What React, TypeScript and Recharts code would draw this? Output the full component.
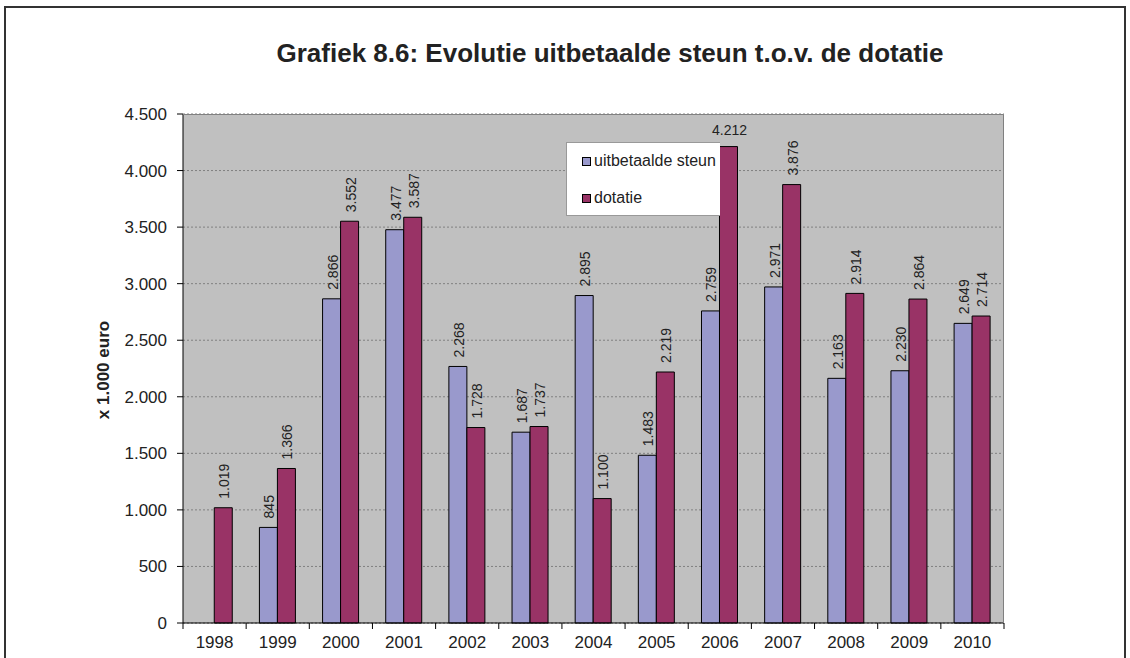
import { BarChart, Bar, XAxis, YAxis, CartesianGrid, Legend, LabelList } from 'recharts';

const years = ['1998', '1999', '2000', '2001', '2002', '2003', '2004', '2005', '2006', '2007', '2008', '2009', '2010'];
const uitbetaaldeSteun = [null, 845, 2866, 3477, 2268, 1687, 2895, 1483, 2759, 2971, 2163, 2230, 2649];
const dotatie = [1019, 1366, 3552, 3587, 1728, 1737, 1100, 2219, 4212, 3876, 2914, 2864, 2714];
const yTicks = [0, 500, 1000, 1500, 2000, 2500, 3000, 3500, 4000, 4500];

const FONT = '"Liberation Sans", Arial, sans-serif';
const BLUE = '#9999CC';
const RED = '#993366';

const data = years.map((year, i) => ({
  year,
  steun: uitbetaaldeSteun[i],
  dotatie: dotatie[i],
}));

// punt als duizendtal-scheiding, zoals in het origineel
const fmt = (v: number) => {
  if (v < 1000) return String(v);
  return `${Math.floor(v / 1000)}.${String(v % 1000).padStart(3, '0')}`;
};

const BarLabel = (props: any) => {
  const { x, y, width, value } = props;
  if (value == null) return null;
  const cx = Number(x) + Number(width) / 2 + 1;
  const top = Number(y);
  // bovenste waarde staat horizontaal, de rest verticaal
  if (value > 4000) {
    return (
      <text x={cx} y={top - 12} textAnchor="middle" fontSize={14} fill="#222" fontFamily={FONT}>
        {fmt(value)}
      </text>
    );
  }
  return (
    <text
      transform={`translate(${cx},${top - 9}) rotate(-90)`}
      textAnchor="start"
      dominantBaseline="central"
      fontSize={14}
      fill="#222"
      fontFamily={FONT}
    >
      {fmt(value)}
    </text>
  );
};

const XTick = (props: any) => {
  const { x, y, payload, index } = props;
  const off = payload && payload.offset ? payload.offset : 821 / 13 / 2;
  return (
    <g>
      <line x1={x - off} x2={x - off} y1={y} y2={y + 6} stroke="#000" />
      {index === years.length - 1 && <line x1={x + off} x2={x + off} y1={y} y2={y + 6} stroke="#000" />}
      <text x={x} y={y + 25} textAnchor="middle" fontSize={17} fill="#222" fontFamily={FONT}>
        {payload.value}
      </text>
    </g>
  );
};

const LegendBox = () => (
  <div
    style={{
      width: 154,
      height: 74,
      background: '#fff',
      border: '1px solid #999',
      borderRight: 'none',
      boxSizing: 'border-box',
      fontFamily: FONT,
      fontSize: 16,
      color: '#222',
      position: 'relative',
    }}
  >
    {[
      { name: 'uitbetaalde steun', color: BLUE, top: 18 },
      { name: 'dotatie', color: RED, top: 55 },
    ].map((it) => (
      <div key={it.name} style={{ position: 'absolute', left: 15, top: it.top - 10, height: 20, display: 'flex', alignItems: 'center', whiteSpace: 'nowrap' }}>
        <span style={{ display: 'inline-block', width: 7, height: 7, background: it.color, border: '1px solid #000', marginRight: 3 }} />
        {it.name}
      </div>
    ))}
  </div>
);

export default function App() {
  return (
    <div style={{ position: 'absolute', left: 0, top: 0, width: 1130, height: 658, background: '#fff', overflow: 'hidden' }}>
      <BarChart
        width={1130}
        height={658}
        data={data}
        margin={{ top: 114, right: 126, left: 123, bottom: 5 }}
        barCategoryGap="21%"
        barGap={0}
      >
        <CartesianGrid vertical={false} fill="#C0C0C0" stroke="#808080" strokeDasharray="2 2" />
        <XAxis
          dataKey="year"
          height={30}
          tickLine={false}
          tickSize={0}
          tickMargin={0}
          axisLine={{ stroke: '#000' }}
          tick={<XTick />}
          interval={0}
        />
        <YAxis
          width={60}
          domain={[0, 4500]}
          ticks={yTicks}
          interval={0}
          tickFormatter={fmt}
          tickSize={6}
          tickMargin={10}
          tickLine={{ stroke: '#000' }}
          axisLine={{ stroke: '#000' }}
          tick={{ fill: '#222', fontSize: 17, fontFamily: FONT }}
        />
        <Legend
          layout="horizontal"
          verticalAlign="middle"
          align="center"
          content={<LegendBox />}
          wrapperStyle={{ position: 'absolute', left: 566, top: 142, width: 154, height: 74 }}
        />
        <Bar dataKey="steun" name="uitbetaalde steun" fill={BLUE} stroke="#000" strokeWidth={1} isAnimationActive={false}>
          <LabelList dataKey="steun" content={<BarLabel />} />
        </Bar>
        <Bar dataKey="dotatie" name="dotatie" fill={RED} stroke="#000" strokeWidth={1} isAnimationActive={false}>
          <LabelList dataKey="dotatie" content={<BarLabel />} />
        </Bar>
      </BarChart>
      <svg width={1130} height={658} style={{ position: 'absolute', left: 0, top: 0, pointerEvents: 'none' }}>
        <path d="M5,658 V7 H1125 V658" fill="none" stroke="#333" strokeWidth={2} />
        <path d="M183,114.5 H1003.5 V623" fill="none" stroke="#808080" strokeWidth={1} />
        <text x={610} y={62} textAnchor="middle" fontSize={26} fontWeight="bold" fill="#222" fontFamily={FONT}>
          Grafiek 8.6: Evolutie uitbetaalde steun t.o.v. de dotatie
        </text>
        <text
          transform="translate(109,370) rotate(-90)"
          textAnchor="middle"
          fontSize={17}
          fontWeight="bold"
          fill="#222"
          fontFamily={FONT}
        >
          x 1.000 euro
        </text>
      </svg>
    </div>
  );
}
